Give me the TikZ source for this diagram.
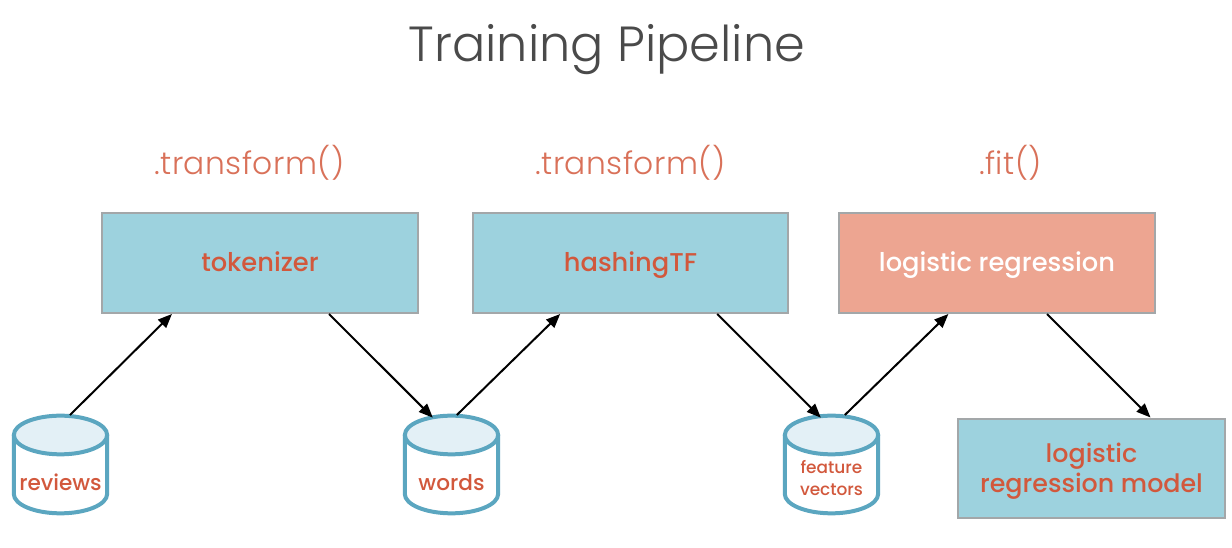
\documentclass[tikz,border=0pt]{standalone}
\usepackage{fontspec}
\setmainfont{Poppins}
\newfontfamily\lightfont[LetterSpace=1.5]{Poppins Light}
\newfontfamily\titlefont{Poppins Light}
\newfontfamily\medfont{Poppins Medium}
\usetikzlibrary{arrows.meta,calc}
\definecolor{boxblue}{HTML}{9DD2DE}
\definecolor{boxsalmon}{HTML}{EDA591}
\definecolor{edgegray}{HTML}{A3A7A9}
\definecolor{cylblue}{HTML}{5BA6C0}
\definecolor{cyltop}{HTML}{E3F0F6}
\definecolor{labelred}{HTML}{D2583C}
\definecolor{titlegray}{HTML}{4A4A4A}
\tikzset{
  x=0.75pt,y=-0.75pt,
  box/.style={draw=edgegray,line width=1.5pt,inner sep=0pt,text=labelred,align=center,
     font=\medfont\fontsize{19.3}{23}\selectfont},
  oneline/.style={text height=16.4pt,text depth=3.8pt},
  blue box/.style={box,fill=boxblue},
  salmon box/.style={box,fill=boxsalmon,text=white},
  store/.style={minimum width=71.25pt,minimum height=75pt,inner sep=0pt,outer sep=0pt},
  cylbody/.style={draw=cylblue,line width=3pt,fill=white},
  cyllid/.style={draw=cylblue,line width=3pt,fill=cyltop},
  storelabel/.style={text=labelred,align=center,inner sep=0pt},
  method/.style={text=labelred!85!white,font=\lightfont\fontsize{23.5}{26}\selectfont},
  flow/.style={-{Triangle[length=10.5pt,width=8.5pt]},line width=1.5pt,black},
}
% \storecyl{node name}{centre x}: a store spanning y = 415..515
\newcommand{\storecyl}[2]{%
  \node[store] (#1) at (#2,465) {};
  \draw[cylbody] ($(#1.center)+(-46.7,-30)$) -- ($(#1.center)+(-46.7,29)$)
     arc[start angle=180,end angle=360,x radius=35pt,y radius=14.5pt]
     -- ($(#1.center)+(46.7,-30)$);
  \draw[cyllid] ($(#1.center)+(0,-30)$) ellipse[x radius=35pt,y radius=14.5pt];
}
\begin{document}
\begin{tikzpicture}
\useasboundingbox[fill=white] (0,0) rectangle (1232,548);
\node[text=titlegray,font=\titlefont\fontsize{37}{42}\selectfont] (title) at (607,50) {Training Pipeline};
\node[method] (m1) at (249.5,163) {.transform()};
\node[method] (m2) at (630.5,163) {.transform()};
\node[method] (m3) at (1010.5,163) {.fit()};

\node[blue box,oneline,minimum width=237pt,minimum height=75pt] (tok) at (260,263) {tokenizer};
\node[blue box,oneline,minimum width=236pt,minimum height=75pt] (hash) at (630.5,263) {hashingTF};
\node[salmon box,oneline,minimum width=237pt,minimum height=75pt] (lr) at (997,263) {logistic regression};
\node[blue box,text depth=1.2pt,minimum width=200pt,minimum height=74pt,
      font=\medfont\fontsize{19}{23}\selectfont] (model) at (1091.5,468.5) {logistic\\regression model};

\storecyl{reviews}{60.5}
\storecyl{words}{451.5}
\storecyl{vectors}{831.5}
\node[storelabel,font=\medfont\fontsize{16.2}{18}\selectfont] (reviewst) at (60.5,482) {reviews};
\node[storelabel,font=\medfont\fontsize{16.2}{18}\selectfont] (wordst) at (451.5,483) {words};
\node[storelabel,font=\medfont\fontsize{12.7}{16.5}\selectfont] (vectorst) at (831.5,478) {feature\\vectors};

\draw[flow] ([xshift=7.1pt]reviews.north) -- ([xshift=53.2pt]tok.south west);
\draw[flow] ([xshift=171pt]tok.south west) -- ([xshift=-14pt,yshift=-2pt]words.north);
\draw[flow] ([xshift=4pt]words.north) -- ([xshift=66pt]hash.south west);
\draw[flow] ([xshift=183.8pt]hash.south west) -- ([xshift=-8pt,yshift=-2pt]vectors.north);
\draw[flow] ([xshift=10pt]vectors.north) -- ([xshift=82.8pt]lr.south west);
\draw[flow] ([xshift=156.8pt]lr.south west) -- ([xshift=145pt,yshift=0.5pt]model.north west);
\end{tikzpicture}
\end{document}
